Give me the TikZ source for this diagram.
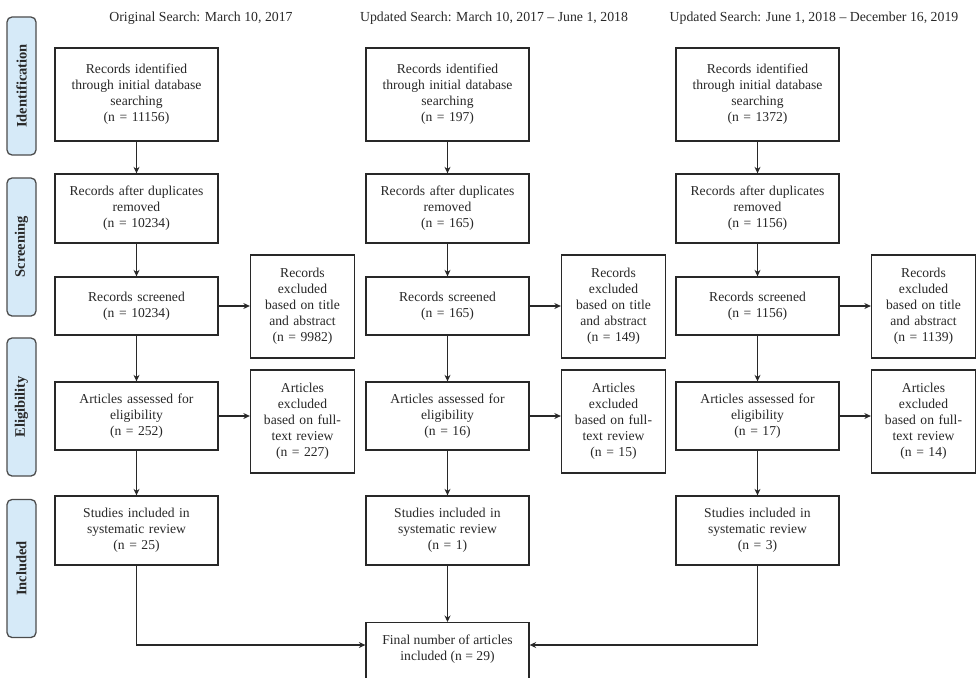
\documentclass[tikz,border=0pt]{standalone}
\usepackage{fontspec}
\setmainfont{Liberation Serif}
\usetikzlibrary{arrows.meta,positioning,calc}
\definecolor{phasefill}{RGB}{214,234,248}
\definecolor{ink}{RGB}{40,40,40}
\begin{document}
\begin{tikzpicture}[x=1pt,y=-1pt,
  every node/.style={font=\fontsize{13.6}{16}\selectfont, text=ink},
  box/.style={draw=ink, line width=1.3pt, fill=white, align=center, inner sep=2pt},
  mainbox/.style={box, minimum width=163pt, text width=155pt},
  exbox/.style={box, minimum width=103pt, minimum height=103pt, text width=100pt},
  phase/.style={draw=black!70, line width=1.3pt, fill=phasefill, rounded corners=5pt,
    minimum width=29pt, minimum height=138pt, inner sep=0pt},
  phasetext/.style={rotate=90, font=\fontsize{14.5}{16}\selectfont\bfseries, text=ink},
  hdr/.style={font=\fontsize{13.8}{16}\selectfont, text=ink},
  arr/.style={draw=ink, line width=1.3pt, -{Stealth[length=6.5pt,width=6pt]}},
]
\useasboundingbox (0,0) rectangle (976,677);

% phase bars
\node[phase] (pI) at (21.5,86) {};
\node[phasetext] (tI) at (pI.center) {Identification};
\node[phase] (pS) at (21.5,247) {};
\node[phasetext] (tS) at (pS.center) {Screening};
\node[phase] (pE) at (21.5,407) {};
\node[phasetext] (tE) at (pE.center) {Eligibility};
\node[phase] (pN) at (21.5,568.5) {};
\node[phasetext] (tN) at (pN.center) {Included};

% headers
\node[hdr] (h1) at (201,18) {Original Search: March 10, 2017};
\node[hdr] (h2) at (494,18) {Updated Search: March 10, 2017 -- June 1, 2018};
\node[hdr] (h3) at (814,18) {Updated Search: June 1, 2018 -- December 16, 2019};

% column 1
\node[mainbox, minimum height=93pt] (a1) at (136.5,94.5) {Records identified\\through initial database\\searching\\(n = 11156)};
\node[mainbox, minimum height=69pt] (b1) at (136.5,208.5) {Records after duplicates\\removed\\(n = 10234)};
\node[mainbox, minimum height=58pt] (c1) at (136.5,306) {Records screened\\(n = 10234)};
\node[mainbox, minimum height=68pt] (d1) at (136.5,416) {Articles assessed for\\eligibility\\(n = 252)};
\node[mainbox, minimum height=69pt] (e1) at (136.5,530.5) {Studies included in\\systematic review\\(n = 25)};
\node[exbox] (x1) at (302.5,306.5) {Records\\excluded\\based on title\\and abstract\\(n = 9982)};
\node[exbox] (y1) at (302.5,421.5) {Articles\\excluded\\based on full-\\text review\\(n = 227)};

% column 2
\node[mainbox, minimum height=93pt] (a2) at (447.5,94.5) {Records identified\\through initial database\\searching\\(n = 197)};
\node[mainbox, minimum height=69pt] (b2) at (447.5,208.5) {Records after duplicates\\removed\\(n = 165)};
\node[mainbox, minimum height=58pt] (c2) at (447.5,306) {Records screened\\(n = 165)};
\node[mainbox, minimum height=68pt] (d2) at (447.5,416) {Articles assessed for\\eligibility\\(n = 16)};
\node[mainbox, minimum height=69pt] (e2) at (447.5,530.5) {Studies included in\\systematic review\\(n = 1)};
\node[exbox] (x2) at (613.5,306.5) {Records\\excluded\\based on title\\and abstract\\(n = 149)};
\node[exbox] (y2) at (613.5,421.5) {Articles\\excluded\\based on full-\\text review\\(n = 15)};

% column 3
\node[mainbox, minimum height=93pt] (a3) at (757.5,94.5) {Records identified\\through initial database\\searching\\(n = 1372)};
\node[mainbox, minimum height=69pt] (b3) at (757.5,208.5) {Records after duplicates\\removed\\(n = 1156)};
\node[mainbox, minimum height=58pt] (c3) at (757.5,306) {Records screened\\(n = 1156)};
\node[mainbox, minimum height=68pt] (d3) at (757.5,416) {Articles assessed for\\eligibility\\(n = 17)};
\node[mainbox, minimum height=69pt] (e3) at (757.5,530.5) {Studies included in\\systematic review\\(n = 3)};
\node[exbox] (x3) at (923.5,306.5) {Records\\excluded\\based on title\\and abstract\\(n = 1139)};
\node[exbox] (y3) at (923.5,421.5) {Articles\\excluded\\based on full-\\text review\\(n = 14)};

% final
\node[box, minimum width=163pt, minimum height=62pt, anchor=north] (f) at (447.5,622) {};
\node[align=center] (ft) at (447.5,649) {Final number of articles\\included (n = 29)};

% connectors
\foreach \c in {1,2,3}{
  \draw[arr] (a\c) -- (b\c);
  \draw[arr] (b\c) -- (c\c);
  \draw[arr] (c\c) -- (d\c);
  \draw[arr] (d\c) -- (e\c);
  \draw[arr] (c\c.east) -- (c\c.east -| x\c.west);
  \draw[arr] (d\c.east) -- (d\c.east -| y\c.west);
}
\coordinate (j1) at (e1.south |- 0,645);
\coordinate (j3) at (e3.south |- 0,645);
\draw[arr] (e1.south) -- (j1) -- (j1 -| f.west);
\draw[arr] (e3.south) -- (j3) -- (j3 -| f.east);
\draw[arr] (e2.south) -- (f.north);
\end{tikzpicture}
\end{document}
